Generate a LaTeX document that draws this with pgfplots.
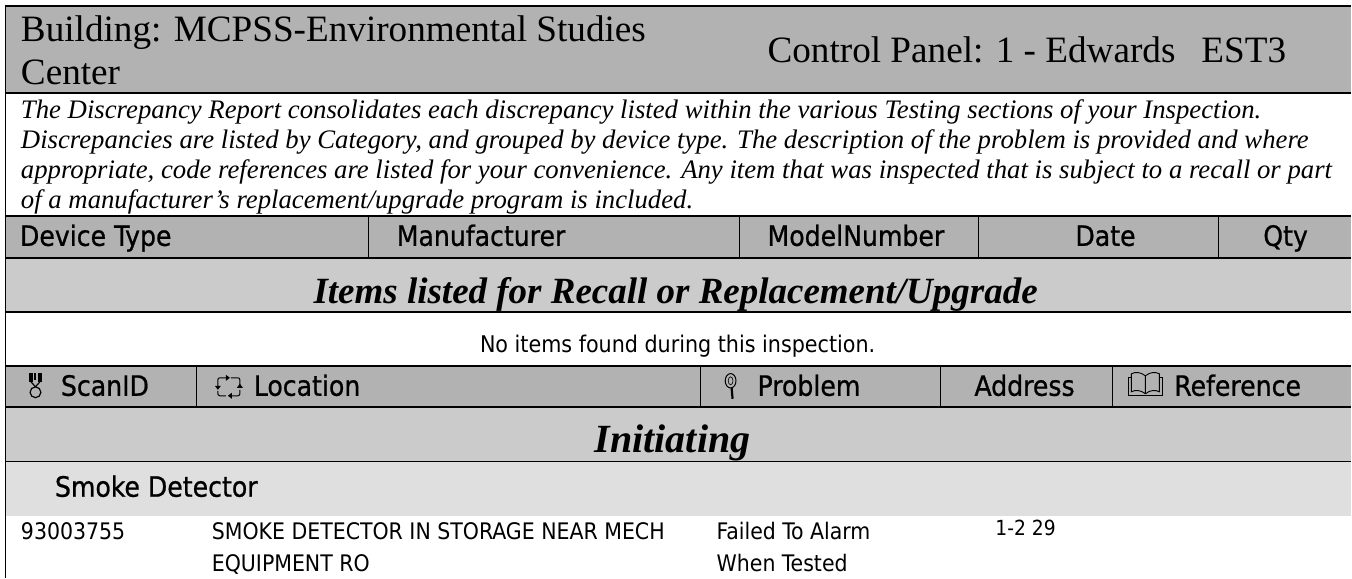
\documentclass[border=0pt]{standalone}
\usepackage{pgfplots}
\pgfplotsset{compat=1.18}
\usepackage{fontspec}
\setmainfont{Liberation Serif}
\newfontfamily\sns{DejaVu Sans Condensed}
\newfontfamily\snb[FakeBold=0.8]{DejaVu Sans Condensed}
\definecolor{hdr}{HTML}{B2B2B2}
\definecolor{sec}{HTML}{CBCBCB}
\definecolor{sub}{HTML}{DFDFDF}
\newcommand{\fs}[1]{\fontsize{#1}{#1}\selectfont}
\begin{document}
\begin{tikzpicture}[every node/.style={inner sep=0pt,outer sep=0pt}]
\path (0,0) rectangle (676pt,289pt);
\begin{axis}[width=676pt,height=289pt,scale only axis,axis lines=none,at={(0,0)},anchor=south west,
  xmin=0,xmax=1352,ymin=0,ymax=578,y dir=reverse,clip=false]
% row fills
\addplot[fill=hdr,draw=none] coordinates {(5,6)(1352,6)(1352,93)(5,93)} --cycle;
\addplot[fill=hdr,draw=none] coordinates {(5,216)(1352,216)(1352,258)(5,258)} --cycle;
\addplot[fill=sec,draw=none] coordinates {(5,258)(1352,258)(1352,312)(5,312)} --cycle;
\addplot[fill=hdr,draw=none] coordinates {(5,366)(1352,366)(1352,407)(5,407)} --cycle;
\addplot[fill=sec,draw=none] coordinates {(5,407)(1352,407)(1352,462)(5,462)} --cycle;
\addplot[fill=sub,draw=none] coordinates {(5,462)(1352,462)(1352,516)(5,516)} --cycle;
% rules
\foreach \y in {6,93,216,258,312,366,407,462}{
 \edef\tmp{\noexpand\addplot[black,line width=0.75pt] coordinates {(5,\y)(1352,\y)};}\tmp}
\addplot[black,line width=0.75pt] coordinates {(5.5,6)(5.5,578)};
\foreach \x in {369,740,979,1219}{
 \edef\tmp{\noexpand\addplot[black,line width=0.5pt] coordinates {(\x,216)(\x,258)};}\tmp}
\foreach \x in {197,701,941,1113}{
 \edef\tmp{\noexpand\addplot[black,line width=0.5pt] coordinates {(\x,366)(\x,407)};}\tmp}
% header
\node[anchor=base west,font=\fs{18.6}] at (axis cs:21,42) {Building: MCPSS-Environmental Studies};
\node[anchor=base west,font=\fs{18.6}] at (axis cs:21,85) {Center};
\node[anchor=base west,font=\fs{18.6}] at (axis cs:768,63) {Control Panel: 1 - Edwards\hspace{13pt}EST3};
% paragraph
\node[anchor=base west,font=\itshape\fs{13.37}] at (axis cs:21,119) {The Discrepancy Report consolidates each discrepancy listed within the various Testing sections of your Inspection.};
\node[anchor=base west,font=\itshape\fs{13.37}] at (axis cs:21,149) {Discrepancies are listed by Category, and grouped by device type. The description of the problem is provided and where};
\node[anchor=base west,font=\itshape\fs{13.37}] at (axis cs:21,179) {appropriate, code references are listed for your convenience. Any item that was inspected that is subject to a recall or part};
\node[anchor=base west,font=\itshape\fs{13.37}] at (axis cs:21,209) {of a manufacturer’s replacement/upgrade program is included.};
% device row
\node[anchor=base west,font=\snb\fs{14}] at (axis cs:20,246) {Device Type};
\node[anchor=base west,font=\snb\fs{14}] at (axis cs:397,246) {Manufacturer};
\node[anchor=base west,font=\snb\fs{14}] at (axis cs:768,246) {ModelNumber};
\node[anchor=base west,font=\snb\fs{14}] at (axis cs:1076,246) {Date};
\node[anchor=base west,font=\snb\fs{14}] at (axis cs:1264,246) {Qty};
\node[anchor=base,font=\bfseries\itshape\fs{18.5}] at (axis cs:676,304) {Items listed for Recall or Replacement/Upgrade};
\node[anchor=base,font=\sns\fs{11.5}] at (axis cs:678,353) {No items found during this inspection.};
% scan row
\node[anchor=base west,font=\snb\fs{14}] at (axis cs:61,396) {ScanID};
\node[anchor=base west,font=\snb\fs{14}] at (axis cs:254,396) {Location};
\node[anchor=base west,font=\snb\fs{14}] at (axis cs:758,396) {Problem};
\node[anchor=base west,font=\snb\fs{14}] at (axis cs:975,396) {Address};
\node[anchor=base west,font=\snb\fs{14}] at (axis cs:1175,396) {Reference};
% icons
\fill[black] (axis cs:29,373) rectangle (axis cs:33,382);
\fill[black] (axis cs:38,373) rectangle (axis cs:42,382);
\fill[black] (axis cs:34.5,373) rectangle (axis cs:36.5,380);
\draw[black,line width=0.6pt] (axis cs:31,382) -- (axis cs:35.5,387) -- (axis cs:40,382);
\draw[black,line width=0.6pt] (axis cs:35.5,392.5) circle[radius=2.7pt];
\draw[black,line width=0.5pt,rounded corners=1pt] (axis cs:226,378) -- (axis cs:218,378) -- (axis cs:218,387);
\draw[black,line width=0.5pt,rounded corners=1pt] (axis cs:231,378) -- (axis cs:240,378) -- (axis cs:240,385);
\draw[black,line width=0.5pt,rounded corners=1pt] (axis cs:218,391) -- (axis cs:218,396) -- (axis cs:226,396);
\draw[black,line width=0.5pt,rounded corners=1pt] (axis cs:240,390) -- (axis cs:240,396) -- (axis cs:232,396);
\fill[black] (axis cs:215,386) -- (axis cs:221,386) -- (axis cs:218,390) --cycle;
\fill[black] (axis cs:237,388) -- (axis cs:243,388) -- (axis cs:240,384) --cycle;
\fill[black] (axis cs:226,375) -- (axis cs:226,381) -- (axis cs:230,378) --cycle;
\fill[black] (axis cs:232,393) -- (axis cs:232,399) -- (axis cs:228,396) --cycle;
\draw[black,line width=0.5pt] (axis cs:731,381) ellipse[x radius=2.7pt,y radius=3.6pt];
\draw[black,line width=0.3pt] (axis cs:731,381) ellipse[x radius=1.2pt,y radius=2pt];
\draw[black,line width=1.1pt] (axis cs:732,388) -- (axis cs:733,399);
\draw[black,line width=0.45pt] (axis cs:1146,376) .. controls (axis cs:1141,372) and (axis cs:1136,372) .. (axis cs:1132,374) -- (axis cs:1132,392) .. controls (axis cs:1136,390) and (axis cs:1141,390) .. (axis cs:1146,394) .. controls (axis cs:1151,390) and (axis cs:1156,390) .. (axis cs:1160,392) -- (axis cs:1160,374) .. controls (axis cs:1156,372) and (axis cs:1151,372) .. (axis cs:1146,376) -- (axis cs:1146,394);
\draw[black,line width=0.4pt] (axis cs:1132,378) -- (axis cs:1129,378) -- (axis cs:1129,396) -- (axis cs:1163,396) -- (axis cs:1163,378) -- (axis cs:1160,378);
\node[anchor=base,font=\bfseries\itshape\fs{20}] at (axis cs:673,453) {Initiating};
\node[anchor=base west,font=\snb\fs{14}] at (axis cs:55,497) {Smoke Detector};
\node[anchor=base west,font=\sns\fs{11.4}] at (axis cs:21,540) {93003755};
\node[anchor=base west,font=\sns\fs{11.4}] at (axis cs:212,540) {SMOKE DETECTOR IN STORAGE NEAR MECH};
\node[anchor=base west,font=\sns\fs{11.4}] at (axis cs:717,540) {Failed To Alarm};
\node[anchor=base west,font=\sns\fs{11.4}] at (axis cs:212,572) {EQUIPMENT RO};
\node[anchor=base west,font=\sns\fs{11.4}] at (axis cs:717,572) {When Tested};
\node[anchor=base west,font=\sns\fs{10.4}] at (axis cs:996,536) {1-2 29};
\end{axis}
\end{tikzpicture}
\end{document}
